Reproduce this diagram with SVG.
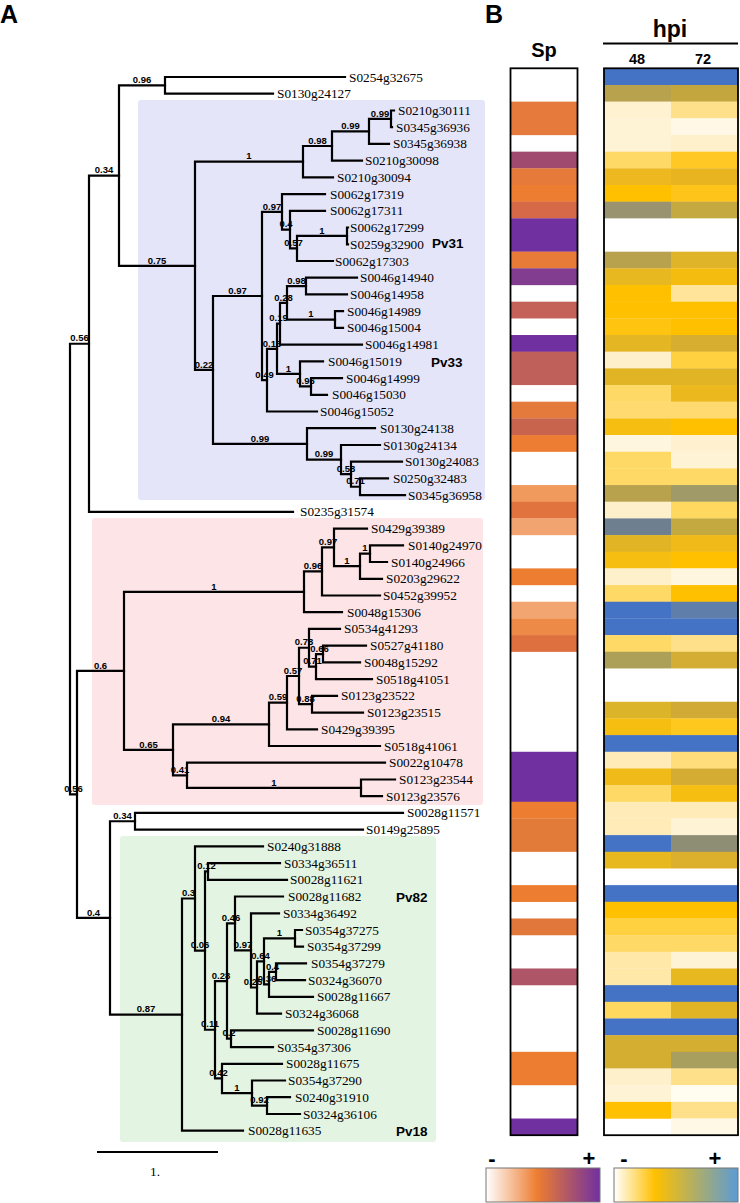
<svg xmlns="http://www.w3.org/2000/svg" width="740" height="1203" viewBox="0 0 740 1203">
<style>
.e{fill:none;stroke:#000;stroke-width:2.2;stroke-linecap:square}
.t{font-family:"Liberation Serif","Times New Roman",serif;font-size:13.3px;fill:#000}
.s{font-family:"Liberation Sans",Arial,sans-serif;font-size:9.5px;font-weight:bold;text-anchor:middle;fill:#000}
.pv{font-family:"Liberation Sans",Arial,sans-serif;font-size:13.5px;font-weight:bold;fill:#000}
.h{font-family:"Liberation Sans",Arial,sans-serif;font-weight:bold;fill:#000}
.bx{fill:none;stroke:#000;stroke-width:1.8}
</style>
<defs>
<linearGradient id="gSp" x1="0" x2="1" y1="0" y2="0"><stop offset="0" stop-color="#FFFFFF"/><stop offset="0.45" stop-color="#ED7D31"/><stop offset="1" stop-color="#7030A0"/></linearGradient>
<linearGradient id="gHpi" x1="0" x2="1" y1="0" y2="0"><stop offset="0" stop-color="#FFFFFF"/><stop offset="0.33" stop-color="#FFC000"/><stop offset="1" stop-color="#5B9BD5"/></linearGradient>
</defs>
<rect width="740" height="1203" fill="#fff"/>
<g id="clade-boxes">
<rect x="138" y="100" width="347" height="400" rx="3" fill="#E5E5FA"/>
<rect x="92" y="518" width="391" height="287" rx="3" fill="#FDE4E6"/>
<rect x="120" y="836" width="316" height="306" rx="3" fill="#E4F4E2"/>
</g>
<g id="panel-labels">
<text class="h" x="0" y="23" font-size="25">A</text>
<text class="h" x="485" y="23" font-size="25">B</text>
</g>
<g id="connectors" class="e">
<path d="M70,343.75V794.35M70,343.75H89M70,794.35H77"/>
<path d="M89,175.6V511.9M89,175.6H119M89,511.9H293"/>
<path d="M119,85.35V265.8M119,85.35H165M119,265.8H195"/>
<path d="M165,77V93.7M165,77H345M165,93.7H273"/>
<path d="M195,161.7V369.95M195,161.7H303M195,369.95H213"/>
<path d="M303,146V177.4M303,146H332M303,177.4H333"/>
<path d="M332,131.4V160.6M332,131.4H369M332,160.6H362"/>
<path d="M369,118.85V143.9M369,118.85H391M369,143.9H389"/>
<path d="M391,110.5V127.2M391,110.5H394M391,127.2H392"/>
<path d="M213,296V443.9M213,296H262M213,443.9H307"/>
<path d="M262,211.85V380.15M262,211.85H282M262,380.15H267"/>
<path d="M282,194.1V229.6M282,194.1H325M282,229.6H290"/>
<path d="M290,210.8V248.45M290,210.8H325M290,248.45H297"/>
<path d="M297,235.9V261M297,235.9H347M297,261H333"/>
<path d="M347,227.5V244.3M347,227.5H348M347,244.3H348"/>
<path d="M267,348.8V411.5M267,348.8H277M267,411.5H317"/>
<path d="M277,323.7V373.9M277,323.7H280M277,373.9H300"/>
<path d="M280,302.8V344.6M280,302.8H287M280,344.6H362"/>
<path d="M287,286.05V319.55M287,286.05H306M287,319.55H335"/>
<path d="M306,277.7V294.4M306,277.7H357M306,294.4H347"/>
<path d="M335,311.2V327.9M335,311.2H343M335,327.9H343"/>
<path d="M300,361.3V386.45M300,361.3H323M300,386.45H311"/>
<path d="M311,378.1V394.8M311,378.1H342M311,394.8H327"/>
<path d="M307,428.2V459.6M307,428.2H375M307,459.6H341"/>
<path d="M341,445V474.2M341,445H380M341,474.2H351"/>
<path d="M351,461.7V486.75M351,461.7H402M351,486.75H360"/>
<path d="M360,478.4V495.1M360,478.4H388M360,495.1H405"/>
<path d="M77,670.8V917.9M77,670.8H124M77,917.9H110"/>
<path d="M124,591.8V749.8M124,591.8H304M124,749.8H173"/>
<path d="M304,571.45V612.2M304,571.45H322M304,612.2H342"/>
<path d="M322,547.4V595.5M322,547.4H334M322,595.5H380"/>
<path d="M334,528.6V566.2M334,528.6H367M334,566.2H360"/>
<path d="M360,553.65V578.8M360,553.65H370M360,578.8H382"/>
<path d="M370,545.3V562M370,545.3H403M370,562H387"/>
<path d="M173,724.3V775.3M173,724.3H269M173,775.3H187"/>
<path d="M269,702.65V746M269,702.65H287M269,746H380"/>
<path d="M287,676V729.3M287,676H299M287,729.3H317"/>
<path d="M299,647.75V704.2M299,647.75H309M299,704.2H312"/>
<path d="M309,628.9V666.6M309,628.9H340M309,666.6H316"/>
<path d="M316,654.05V679.1M316,654.05H323M316,679.1H372"/>
<path d="M323,645.7V662.4M323,645.7H366M323,662.4H360"/>
<path d="M312,695.8V712.6M312,695.8H337M312,712.6H363"/>
<path d="M187,762.7V787.85M187,762.7H385M187,787.85H361"/>
<path d="M361,779.5V796.2M361,779.5H395M361,796.2H382"/>
<path d="M110,821.25V1014.6M110,821.25H135M110,1014.6H182"/>
<path d="M135,812.9V829.6M135,812.9H403M135,829.6H363"/>
<path d="M182,898.5V1130.7M182,898.5H195M182,1130.7H243"/>
<path d="M195,846.4V950.6M195,846.4H263M195,950.6H205"/>
<path d="M205,871.45V1029.75M205,871.45H208M205,1029.75H215"/>
<path d="M208,863.1V879.8M208,863.1H280M208,879.8H287"/>
<path d="M215,981.1V1078.4M215,981.1H227M215,1078.4H222"/>
<path d="M227,923.45V1038.7M227,923.45H235M227,1038.7H231"/>
<path d="M235,896.5V950.4M235,896.5H283M235,950.4H251"/>
<path d="M251,913.3V987.5M251,913.3H279M251,987.5H257"/>
<path d="M257,961.35V1013.6M257,961.35H264M257,1013.6H281"/>
<path d="M264,938.35V984.35M264,938.35H295M264,984.35H269"/>
<path d="M295,930V946.7M295,930H302M295,946.7H303"/>
<path d="M269,971.8V996.9M269,971.8H276M269,996.9H313"/>
<path d="M276,963.4V980.2M276,963.4H306M276,980.2H305"/>
<path d="M231,1030.3V1047.1M231,1030.3H313M231,1047.1H273"/>
<path d="M222,1063.8V1093.05M222,1063.8H282M222,1093.05H252"/>
<path d="M252,1080.5V1105.6M252,1080.5H285M252,1105.6H267"/>
<path d="M267,1097.2V1114M267,1097.2H290M267,1114H300"/>
</g>
<g id="support-values" class="s">
<g id="n-root-top"><text x="79.5" y="341.4">0.56</text></g>
<g id="n-a"><text x="104" y="173.3">0.34</text></g>
<g id="n-b"><text x="142" y="83">0.96</text></g>
<g id="n-c"><text x="157" y="263.5">0.75</text></g>
<g id="n-d"><text x="249" y="159.4">1</text></g>
<g id="n-e"><text x="317.5" y="143.7">0.98</text></g>
<g id="n-f"><text x="350.5" y="129.1">0.99</text></g>
<g id="n-g"><text x="380" y="116.5">0.99</text></g>
<g id="n-h"><text x="204" y="367.6">0.22</text></g>
<g id="n-i"><text x="237.5" y="293.7">0.97</text></g>
<g id="n-j"><text x="272" y="209.5">0.97</text></g>
<g id="n-k"><text x="286" y="227.3">0.4</text></g>
<g id="n-l"><text x="293.5" y="246.1">0.57</text></g>
<g id="n-m"><text x="322" y="233.6">1</text></g>
<g id="n-n"><text x="264.5" y="377.8">0.49</text></g>
<g id="n-o"><text x="272" y="346.5">0.15</text></g>
<g id="n-p"><text x="278.5" y="321.4">0.19</text></g>
<g id="n-q"><text x="283.5" y="300.5">0.28</text></g>
<g id="n-r"><text x="296.5" y="283.7">0.98</text></g>
<g id="n-s"><text x="311" y="317.2">1</text></g>
<g id="n-t"><text x="288.5" y="371.6">1</text></g>
<g id="n-u"><text x="305.5" y="384.1">0.96</text></g>
<g id="n-v"><text x="260" y="441.6">0.99</text></g>
<g id="n-w"><text x="324" y="457.3">0.99</text></g>
<g id="n-x"><text x="346" y="471.9">0.58</text></g>
<g id="n-y"><text x="355.5" y="484.4">0.71</text></g>
<g id="n-root-bottom"><text x="73.5" y="792">0.56</text></g>
<g id="n-p06"><text x="100.5" y="668.5">0.6</text></g>
<g id="n-p1"><text x="214" y="589.5">1</text></g>
<g id="n-p096"><text x="313" y="569.1">0.96</text></g>
<g id="n-p097"><text x="328" y="545.1">0.97</text></g>
<g id="n-p1c"><text x="347" y="563.9">1</text></g>
<g id="n-p1d"><text x="365" y="551.3">1</text></g>
<g id="n-p065"><text x="148.5" y="747.5">0.65</text></g>
<g id="n-p094"><text x="221" y="722">0.94</text></g>
<g id="n-p059"><text x="278" y="700.3">0.59</text></g>
<g id="n-p057"><text x="293" y="673.7">0.57</text></g>
<g id="n-p078"><text x="304" y="645.4">0.78</text></g>
<g id="n-p071"><text x="312.5" y="664.3">0.71</text></g>
<g id="n-p066"><text x="319.5" y="651.7">0.66</text></g>
<g id="n-p088"><text x="305.5" y="701.9">0.88</text></g>
<g id="n-p041"><text x="180" y="773">0.41</text></g>
<g id="n-p1e"><text x="274" y="785.5">1</text></g>
<g id="n-g04"><text x="93.5" y="915.6">0.4</text></g>
<g id="n-g034"><text x="122.5" y="818.9">0.34</text></g>
<g id="n-g087"><text x="146" y="1012.3">0.87</text></g>
<g id="n-g03"><text x="188.5" y="896.2">0.3</text></g>
<g id="n-g006"><text x="200" y="948.3">0.06</text></g>
<g id="n-g012"><text x="206.5" y="869.1">0.12</text></g>
<g id="n-g011"><text x="210" y="1027.4">0.11</text></g>
<g id="n-g028"><text x="221" y="978.8">0.28</text></g>
<g id="n-g046"><text x="231" y="921.1">0.46</text></g>
<g id="n-g097"><text x="243" y="948.1">0.97</text></g>
<g id="n-g025"><text x="253" y="985.2">0.25</text></g>
<g id="n-g064"><text x="260.5" y="959">0.64</text></g>
<g id="n-g1f"><text x="279.5" y="936">1</text></g>
<g id="n-g036"><text x="267" y="982">0.36</text></g>
<g id="n-g04b"><text x="272.5" y="969.5">0.4</text></g>
<g id="n-g02"><text x="229" y="1036.4">0.2</text></g>
<g id="n-g042"><text x="218.5" y="1076.1">0.42</text></g>
<g id="n-g1g"><text x="237" y="1090.7">1</text></g>
<g id="n-g092"><text x="259.5" y="1103.3">0.92</text></g>
</g>
<g id="leaves" class="t">
<g id="S0254g32675"><text x="349" y="81.5">S0254g32675</text></g>
<g id="S0130g24127"><text x="277" y="98.2">S0130g24127</text></g>
<g id="S0210g30111"><text x="398" y="115">S0210g30111</text></g>
<g id="S0345g36936"><text x="396" y="131.7">S0345g36936</text></g>
<g id="S0345g36938"><text x="393" y="148.4">S0345g36938</text></g>
<g id="S0210g30098"><text x="365" y="165.1">S0210g30098</text></g>
<g id="S0210g30094"><text x="337" y="181.9">S0210g30094</text></g>
<g id="S0062g17319"><text x="330" y="198.6">S0062g17319</text></g>
<g id="S0062g17311"><text x="330" y="215.3">S0062g17311</text></g>
<g id="S0062g17299"><text x="350" y="232">S0062g17299</text></g>
<g id="S0259g32900"><text x="350" y="248.8">S0259g32900</text></g>
<g id="S0062g17303"><text x="335" y="265.5">S0062g17303</text></g>
<g id="S0046g14940"><text x="360" y="282.2">S0046g14940</text></g>
<g id="S0046g14958"><text x="350" y="298.9">S0046g14958</text></g>
<g id="S0046g14989"><text x="347" y="315.7">S0046g14989</text></g>
<g id="S0046g15004"><text x="347" y="332.4">S0046g15004</text></g>
<g id="S0046g14981"><text x="365" y="349.1">S0046g14981</text></g>
<g id="S0046g15019"><text x="328" y="365.8">S0046g15019</text></g>
<g id="S0046g14999"><text x="346" y="382.6">S0046g14999</text></g>
<g id="S0046g15030"><text x="332" y="399.3">S0046g15030</text></g>
<g id="S0046g15052"><text x="320" y="416">S0046g15052</text></g>
<g id="S0130g24138"><text x="380" y="432.7">S0130g24138</text></g>
<g id="S0130g24134"><text x="383" y="449.5">S0130g24134</text></g>
<g id="S0130g24083"><text x="405" y="466.2">S0130g24083</text></g>
<g id="S0250g32483"><text x="393" y="482.9">S0250g32483</text></g>
<g id="S0345g36958"><text x="408" y="499.6">S0345g36958</text></g>
<g id="S0235g31574"><text x="300" y="516.4">S0235g31574</text></g>
<g id="S0429g39389"><text x="371" y="533.1">S0429g39389</text></g>
<g id="S0140g24970"><text x="408" y="549.8">S0140g24970</text></g>
<g id="S0140g24966"><text x="391" y="566.5">S0140g24966</text></g>
<g id="S0203g29622"><text x="386" y="583.3">S0203g29622</text></g>
<g id="S0452g39952"><text x="383" y="600">S0452g39952</text></g>
<g id="S0048g15306"><text x="347" y="616.7">S0048g15306</text></g>
<g id="S0534g41293"><text x="344" y="633.4">S0534g41293</text></g>
<g id="S0527g41180"><text x="370" y="650.2">S0527g41180</text></g>
<g id="S0048g15292"><text x="364" y="666.9">S0048g15292</text></g>
<g id="S0518g41051"><text x="376" y="683.6">S0518g41051</text></g>
<g id="S0123g23522"><text x="341" y="700.3">S0123g23522</text></g>
<g id="S0123g23515"><text x="367" y="717.1">S0123g23515</text></g>
<g id="S0429g39395"><text x="321" y="733.8">S0429g39395</text></g>
<g id="S0518g41061"><text x="384" y="750.5">S0518g41061</text></g>
<g id="S0022g10478"><text x="389" y="767.2">S0022g10478</text></g>
<g id="S0123g23544"><text x="399" y="784">S0123g23544</text></g>
<g id="S0123g23576"><text x="386" y="800.7">S0123g23576</text></g>
<g id="S0028g11571"><text x="407" y="817.4">S0028g11571</text></g>
<g id="S0149g25895"><text x="366" y="834.1">S0149g25895</text></g>
<g id="S0240g31888"><text x="267" y="850.9">S0240g31888</text></g>
<g id="S0334g36511"><text x="284" y="867.6">S0334g36511</text></g>
<g id="S0028g11621"><text x="290" y="884.3">S0028g11621</text></g>
<g id="S0028g11682"><text x="288" y="901">S0028g11682</text></g>
<g id="S0334g36492"><text x="283" y="917.8">S0334g36492</text></g>
<g id="S0354g37275"><text x="305" y="934.5">S0354g37275</text></g>
<g id="S0354g37299"><text x="307" y="951.2">S0354g37299</text></g>
<g id="S0354g37279"><text x="311" y="967.9">S0354g37279</text></g>
<g id="S0324g36070"><text x="308" y="984.7">S0324g36070</text></g>
<g id="S0028g11667"><text x="317" y="1001.4">S0028g11667</text></g>
<g id="S0324g36068"><text x="285" y="1018.1">S0324g36068</text></g>
<g id="S0028g11690"><text x="317" y="1034.8">S0028g11690</text></g>
<g id="S0354g37306"><text x="277" y="1051.6">S0354g37306</text></g>
<g id="S0028g11675"><text x="286" y="1068.3">S0028g11675</text></g>
<g id="S0354g37290"><text x="288" y="1085">S0354g37290</text></g>
<g id="S0240g31910"><text x="295" y="1101.7">S0240g31910</text></g>
<g id="S0324g36106"><text x="303" y="1118.5">S0324g36106</text></g>
<g id="S0028g11635"><text x="248" y="1135.2">S0028g11635</text></g>
</g>
<g id="clade-names" class="pv">
<text x="432" y="248">Pv31</text>
<text x="431" y="367">Pv33</text>
<text x="396" y="902">Pv82</text>
<text x="396" y="1136">Pv18</text>
</g>
<g id="scale-bar">
<path d="M97,1152H218" stroke="#000" stroke-width="2" fill="none"/>
<text class="t" x="155" y="1176" text-anchor="middle" font-size="13">1.</text>
</g>
<g id="heatmap-sp">
<rect x="510.5" y="101.64" width="67" height="33.5" fill="#E57A3C"/>
<rect x="510.5" y="151.65" width="67" height="16.9" fill="#A04A70"/>
<rect x="510.5" y="168.32" width="67" height="16.9" fill="#E57A3A"/>
<rect x="510.5" y="184.99" width="67" height="16.9" fill="#ED7D31"/>
<rect x="510.5" y="201.66" width="67" height="16.9" fill="#D66A48"/>
<rect x="510.5" y="218.33" width="67" height="33.5" fill="#7030A0"/>
<rect x="510.5" y="251.67" width="67" height="16.9" fill="#E97B38"/>
<rect x="510.5" y="268.34" width="67" height="16.8" fill="#823C90"/>
<rect x="510.5" y="301.68" width="67" height="16.8" fill="#C4625A"/>
<rect x="510.5" y="335.02" width="67" height="16.9" fill="#7030A0"/>
<rect x="510.5" y="351.69" width="67" height="33.4" fill="#C0605A"/>
<rect x="510.5" y="401.7" width="67" height="16.9" fill="#E47A3C"/>
<rect x="510.5" y="418.37" width="67" height="16.9" fill="#C8644E"/>
<rect x="510.5" y="435.04" width="67" height="16.8" fill="#EC7D32"/>
<rect x="510.5" y="485.05" width="67" height="16.9" fill="#F09A5E"/>
<rect x="510.5" y="501.72" width="67" height="16.9" fill="#E0733E"/>
<rect x="510.5" y="518.39" width="67" height="16.8" fill="#F2A470"/>
<rect x="510.5" y="568.4" width="67" height="16.8" fill="#ED7D31"/>
<rect x="510.5" y="601.74" width="67" height="16.9" fill="#F2A570"/>
<rect x="510.5" y="618.41" width="67" height="16.9" fill="#EE8A48"/>
<rect x="510.5" y="635.08" width="67" height="16.8" fill="#DE7040"/>
<rect x="510.5" y="751.77" width="67" height="50.2" fill="#7030A0"/>
<rect x="510.5" y="801.78" width="67" height="16.9" fill="#ED7D31"/>
<rect x="510.5" y="818.45" width="67" height="33.4" fill="#E27A3A"/>
<rect x="510.5" y="885.13" width="67" height="16.8" fill="#ED7D31"/>
<rect x="510.5" y="918.47" width="67" height="16.8" fill="#E2773C"/>
<rect x="510.5" y="968.48" width="67" height="16.8" fill="#AE5568"/>
<rect x="510.5" y="1051.83" width="67" height="33.4" fill="#ED7D31"/>
<rect x="510.5" y="1118.51" width="67" height="16.7" fill="#7030A0"/>
<rect class="bx" x="510.5" y="68.3" width="67" height="1066.9"/>
</g>
<g id="heatmap-hpi">
<rect x="604" y="68.3" width="134" height="16.9" fill="#4472C4"/>
<rect x="604" y="84.97" width="67" height="16.9" fill="#B8A24E"/><rect x="671" y="84.97" width="67" height="16.9" fill="#C4A63E"/>
<rect x="604" y="101.64" width="67" height="16.9" fill="#FFF2D0"/><rect x="671" y="101.64" width="67" height="16.9" fill="#FFE08A"/>
<rect x="604" y="118.31" width="67" height="16.9" fill="#FFF3D6"/><rect x="671" y="118.31" width="67" height="16.9" fill="#FFF8E6"/>
<rect x="604" y="134.98" width="67" height="16.9" fill="#FFF3D6"/><rect x="671" y="134.98" width="67" height="16.9" fill="#FFF0CC"/>
<rect x="604" y="151.65" width="67" height="16.9" fill="#FFD966"/><rect x="671" y="151.65" width="67" height="16.9" fill="#FFC825"/>
<rect x="604" y="168.32" width="67" height="16.9" fill="#EDB820"/><rect x="671" y="168.32" width="67" height="16.9" fill="#E8B420"/>
<rect x="604" y="184.99" width="67" height="16.9" fill="#FFC000"/><rect x="671" y="184.99" width="67" height="16.9" fill="#FFC41A"/>
<rect x="604" y="201.66" width="67" height="16.7" fill="#9A9370"/><rect x="671" y="201.66" width="67" height="16.7" fill="#C4A840"/>
<rect x="604" y="251.67" width="67" height="16.9" fill="#B8A24E"/><rect x="671" y="251.67" width="67" height="16.9" fill="#E0B428"/>
<rect x="604" y="268.34" width="67" height="16.9" fill="#E8B820"/><rect x="671" y="268.34" width="67" height="16.9" fill="#F5BC10"/>
<rect x="604" y="285.01" width="67" height="16.9" fill="#FFC000"/><rect x="671" y="285.01" width="67" height="16.9" fill="#FFE49A"/>
<rect x="604" y="301.68" width="134" height="16.9" fill="#FFC000"/>
<rect x="604" y="318.35" width="67" height="16.9" fill="#FFC410"/><rect x="671" y="318.35" width="67" height="16.9" fill="#FFC000"/>
<rect x="604" y="335.02" width="67" height="16.9" fill="#E4B624"/><rect x="671" y="335.02" width="67" height="16.9" fill="#D8AE30"/>
<rect x="604" y="351.69" width="67" height="16.9" fill="#FFF0CC"/><rect x="671" y="351.69" width="67" height="16.9" fill="#FFD040"/>
<rect x="604" y="368.36" width="134" height="16.9" fill="#E0B424"/>
<rect x="604" y="385.03" width="67" height="16.9" fill="#FFD966"/><rect x="671" y="385.03" width="67" height="16.9" fill="#EBB91E"/>
<rect x="604" y="401.7" width="134" height="16.9" fill="#FFDA70"/>
<rect x="604" y="418.37" width="67" height="16.9" fill="#F5BE10"/><rect x="671" y="418.37" width="67" height="16.9" fill="#FFC000"/>
<rect x="604" y="435.04" width="67" height="16.9" fill="#FFF6E0"/><rect x="671" y="435.04" width="67" height="16.9" fill="#FFF0D0"/>
<rect x="604" y="451.71" width="67" height="16.9" fill="#FFD966"/><rect x="671" y="451.71" width="67" height="16.9" fill="#FFF3D6"/>
<rect x="604" y="468.38" width="134" height="16.9" fill="#FFD966"/>
<rect x="604" y="485.05" width="67" height="16.9" fill="#B8A24E"/><rect x="671" y="485.05" width="67" height="16.9" fill="#A09A68"/>
<rect x="604" y="501.72" width="67" height="16.9" fill="#FFF0CC"/><rect x="671" y="501.72" width="67" height="16.9" fill="#FFD860"/>
<rect x="604" y="518.39" width="67" height="16.9" fill="#6E8090"/><rect x="671" y="518.39" width="67" height="16.9" fill="#C4A840"/>
<rect x="604" y="535.06" width="67" height="16.9" fill="#E0B424"/><rect x="671" y="535.06" width="67" height="16.9" fill="#F0BA18"/>
<rect x="604" y="551.73" width="67" height="16.9" fill="#F5BE10"/><rect x="671" y="551.73" width="67" height="16.9" fill="#FFC000"/>
<rect x="604" y="568.4" width="67" height="16.9" fill="#FFF0CC"/><rect x="671" y="568.4" width="67" height="16.9" fill="#FFF6E0"/>
<rect x="604" y="585.07" width="67" height="16.9" fill="#FFD966"/><rect x="671" y="585.07" width="67" height="16.9" fill="#FFC000"/>
<rect x="604" y="601.74" width="67" height="16.9" fill="#4472C4"/><rect x="671" y="601.74" width="67" height="16.9" fill="#5F7FAA"/>
<rect x="604" y="618.41" width="134" height="16.9" fill="#4472C4"/>
<rect x="604" y="635.08" width="67" height="16.9" fill="#FFD966"/><rect x="671" y="635.08" width="67" height="16.9" fill="#FFE08A"/>
<rect x="604" y="651.75" width="67" height="16.7" fill="#ACA058"/><rect x="671" y="651.75" width="67" height="16.7" fill="#D4AE34"/>
<rect x="604" y="701.76" width="67" height="16.9" fill="#DCB42A"/><rect x="671" y="701.76" width="67" height="16.9" fill="#D0AA34"/>
<rect x="604" y="718.43" width="67" height="16.9" fill="#F5BE10"/><rect x="671" y="718.43" width="67" height="16.9" fill="#FFC81E"/>
<rect x="604" y="735.1" width="134" height="16.9" fill="#4472C4"/>
<rect x="604" y="751.77" width="67" height="16.9" fill="#FFEBB8"/><rect x="671" y="751.77" width="67" height="16.9" fill="#FFDD7A"/>
<rect x="604" y="768.44" width="67" height="16.9" fill="#F0BA18"/><rect x="671" y="768.44" width="67" height="16.9" fill="#D4AC34"/>
<rect x="604" y="785.11" width="67" height="16.9" fill="#FFD966"/><rect x="671" y="785.11" width="67" height="16.9" fill="#F5BE10"/>
<rect x="604" y="801.78" width="134" height="16.9" fill="#FFEBB8"/>
<rect x="604" y="818.45" width="67" height="16.9" fill="#FFEBB8"/><rect x="671" y="818.45" width="67" height="16.9" fill="#FFF3D6"/>
<rect x="604" y="835.12" width="67" height="16.9" fill="#4472C4"/><rect x="671" y="835.12" width="67" height="16.9" fill="#8E8E74"/>
<rect x="604" y="851.79" width="67" height="16.7" fill="#E8B820"/><rect x="671" y="851.79" width="67" height="16.7" fill="#DCB02C"/>
<rect x="604" y="885.13" width="134" height="16.9" fill="#4472C4"/>
<rect x="604" y="901.8" width="134" height="16.9" fill="#FFC000"/>
<rect x="604" y="918.47" width="134" height="16.9" fill="#FFD040"/>
<rect x="604" y="935.14" width="134" height="16.9" fill="#FFD966"/>
<rect x="604" y="951.81" width="67" height="16.9" fill="#FFE8A8"/><rect x="671" y="951.81" width="67" height="16.9" fill="#FFF3D6"/>
<rect x="604" y="968.48" width="67" height="16.9" fill="#FFE8A8"/><rect x="671" y="968.48" width="67" height="16.9" fill="#E8B820"/>
<rect x="604" y="985.15" width="134" height="16.9" fill="#4472C4"/>
<rect x="604" y="1001.82" width="67" height="16.9" fill="#FFD860"/><rect x="671" y="1001.82" width="67" height="16.9" fill="#E0B424"/>
<rect x="604" y="1018.49" width="134" height="16.9" fill="#4472C4"/>
<rect x="604" y="1035.16" width="134" height="16.9" fill="#D4AE30"/>
<rect x="604" y="1051.83" width="67" height="16.9" fill="#D4AE30"/><rect x="671" y="1051.83" width="67" height="16.9" fill="#A89E5E"/>
<rect x="604" y="1068.5" width="67" height="16.9" fill="#FFF0CC"/><rect x="671" y="1068.5" width="67" height="16.9" fill="#FFE08A"/>
<rect x="604" y="1085.17" width="67" height="16.9" fill="#FFF3D6"/><rect x="671" y="1085.17" width="67" height="16.9" fill="#FFFCF0"/>
<rect x="604" y="1101.84" width="67" height="16.9" fill="#FFC000"/><rect x="671" y="1101.84" width="67" height="16.9" fill="#FFE08A"/>
<rect x="671" y="1118.51" width="67" height="16.7" fill="#FFF8E6"/>
<rect class="bx" x="604" y="68.3" width="134" height="1066.9"/>
</g>
<g id="headers" class="h" text-anchor="middle">
<text x="544" y="57" font-size="20">Sp</text>
<text x="670" y="37" font-size="23">hpi</text>
<path d="M603,43.5H738" stroke="#000" stroke-width="2"/>
<text x="637" y="64" font-size="14.5">48</text>
<text x="703" y="64" font-size="14.5">72</text>
</g>
<g id="legend">
<text class="h" x="492" y="1166" font-size="22" text-anchor="middle">-</text>
<text class="h" x="589" y="1166" font-size="22" text-anchor="middle">+</text>
<rect x="486" y="1168" width="114" height="34" fill="url(#gSp)" stroke="#777" stroke-width="1"/>
<text class="h" x="624" y="1166" font-size="22" text-anchor="middle">-</text>
<text class="h" x="715" y="1166" font-size="22" text-anchor="middle">+</text>
<rect x="614" y="1168" width="124" height="34" fill="url(#gHpi)" stroke="#777" stroke-width="1"/>
</g>
</svg>
